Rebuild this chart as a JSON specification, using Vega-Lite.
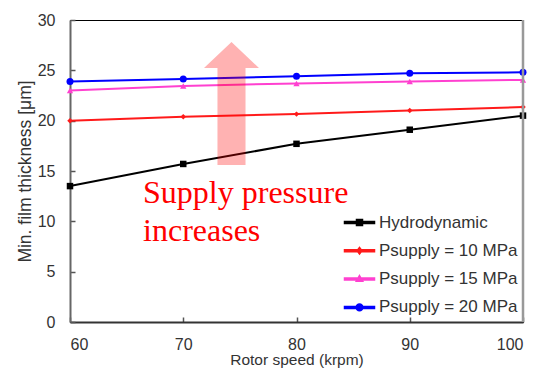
{
  "$schema": "https://vega.github.io/schema/vega-lite/v6.json",
  "width": 453,
  "height": 302,
  "autosize": "none",
  "padding": {"left": 70, "top": 20, "right": 12, "bottom": 48},
  "background": "white",
  "config": {
    "font": "Liberation Sans",
    "view": {"stroke": "#000", "strokeWidth": 1},
    "axis": {
      "grid": false,
      "labelFont": "Liberation Sans",
      "labelFontSize": 16,
      "labelColor": "#333",
      "titleFont": "Liberation Sans",
      "titleFontWeight": "normal",
      "titleColor": "#333",
      "domainColor": "#333",
      "domainWidth": 2,
      "tickColor": "#555",
      "tickSize": -5,
      "tickWidth": 1.5
    },
    "legend": {
      "labelFont": "Liberation Sans",
      "labelFontSize": 17,
      "labelColor": "#333"
    }
  },
  "data": {
    "values": [
      {"speed": 60, "thickness": 13.5, "series": "Hydrodynamic"},
      {"speed": 70, "thickness": 15.7, "series": "Hydrodynamic"},
      {"speed": 80, "thickness": 17.7, "series": "Hydrodynamic"},
      {"speed": 90, "thickness": 19.1, "series": "Hydrodynamic"},
      {"speed": 100, "thickness": 20.5, "series": "Hydrodynamic"},
      {"speed": 60, "thickness": 20.0, "series": "Psupply = 10 MPa"},
      {"speed": 70, "thickness": 20.4, "series": "Psupply = 10 MPa"},
      {"speed": 80, "thickness": 20.65, "series": "Psupply = 10 MPa"},
      {"speed": 90, "thickness": 21.0, "series": "Psupply = 10 MPa"},
      {"speed": 100, "thickness": 21.35, "series": "Psupply = 10 MPa"},
      {"speed": 60, "thickness": 23.0, "series": "Psupply = 15 MPa"},
      {"speed": 70, "thickness": 23.45, "series": "Psupply = 15 MPa"},
      {"speed": 80, "thickness": 23.7, "series": "Psupply = 15 MPa"},
      {"speed": 90, "thickness": 23.9, "series": "Psupply = 15 MPa"},
      {"speed": 100, "thickness": 24.05, "series": "Psupply = 15 MPa"},
      {"speed": 60, "thickness": 23.9, "series": "Psupply = 20 MPa"},
      {"speed": 70, "thickness": 24.15, "series": "Psupply = 20 MPa"},
      {"speed": 80, "thickness": 24.4, "series": "Psupply = 20 MPa"},
      {"speed": 90, "thickness": 24.7, "series": "Psupply = 20 MPa"},
      {"speed": 100, "thickness": 24.8, "series": "Psupply = 20 MPa"}
    ]
  },
  "layer": [
    {
      "mark": {"type": "line", "strokeWidth": 2},
      "encoding": {
        "x": {
          "field": "speed", "type": "quantitative",
          "scale": {"domain": [60, 100], "nice": false, "zero": false},
          "axis": {"values": [60, 70, 80, 90, 100], "title": "Rotor speed (krpm)", "titleFontSize": 15.5, "labelPadding": 19, "titlePadding": 0}
        },
        "y": {
          "field": "thickness", "type": "quantitative",
          "scale": {"domain": [0, 30], "nice": false},
          "axis": {"values": [0, 5, 10, 15, 20, 25, 30], "title": "Min. film thickness [μm]", "titleFontSize": 17.5, "labelPadding": 20, "titlePadding": 3, "domainColor": "#666"}
        },
        "color": {
          "field": "series", "type": "nominal",
          "scale": {
            "domain": ["Hydrodynamic", "Psupply = 10 MPa", "Psupply = 15 MPa", "Psupply = 20 MPa"],
            "range": ["#000000", "#ff1a1a", "#ff40d0", "#0000ff"]
          },
          "legend": {
            "title": null,
            "orient": "none",
            "legendX": 276,
            "legendY": 189,
            "symbolSize": 625,
            "symbolOpacity": 1,
            "rowPadding": 6.3,
            "labelOffset": 6
          }
        }
      }
    },
    {
      "mark": {"type": "point", "filled": true, "opacity": 1, "size": 0.01},
      "encoding": {
        "x": {"field": "speed", "type": "quantitative"},
        "y": {"field": "thickness", "type": "quantitative"},
        "color": {"field": "series", "type": "nominal"},
        "shape": {
          "field": "series", "type": "nominal",
          "scale": {
            "domain": ["Hydrodynamic", "Psupply = 10 MPa", "Psupply = 15 MPa", "Psupply = 20 MPa"],
            "range": [
              "M-1.2,-0.08H1.2V0.08H-1.2Z M-0.24,-0.24H0.24V0.24H-0.24Z",
              "M-1.2,-0.08H1.2V0.08H-1.2Z M0,-0.26L0.2,0L0,0.26L-0.2,0Z",
              "M-1.2,-0.08H1.2V0.08H-1.2Z M0,-0.28L0.26,0.18L-0.26,0.18Z",
              "M-1.2,-0.08H1.2V0.08H-1.2Z M0.27,0A0.27,0.27,0,1,1,-0.27,0A0.27,0.27,0,1,1,0.27,0Z"
            ]
          }
        }
      }
    },
    {
      "transform": [{"filter": "datum.series === 'Hydrodynamic'"}],
      "mark": {"type": "point", "shape": "square", "filled": true, "opacity": 1, "size": 42, "color": "#000000"},
      "encoding": {
        "x": {"field": "speed", "type": "quantitative"},
        "y": {"field": "thickness", "type": "quantitative"}
      }
    },
    {
      "transform": [{"filter": "datum.series === 'Psupply = 10 MPa'"}],
      "mark": {"type": "point", "shape": "diamond", "filled": true, "opacity": 1, "size": 30, "color": "#ff1a1a"},
      "encoding": {
        "x": {"field": "speed", "type": "quantitative"},
        "y": {"field": "thickness", "type": "quantitative"}
      }
    },
    {
      "transform": [{"filter": "datum.series === 'Psupply = 15 MPa'"}],
      "mark": {"type": "point", "shape": "triangle-up", "filled": true, "opacity": 1, "size": 40, "color": "#ff40d0"},
      "encoding": {
        "x": {"field": "speed", "type": "quantitative"},
        "y": {"field": "thickness", "type": "quantitative"}
      }
    },
    {
      "transform": [{"filter": "datum.series === 'Psupply = 20 MPa'"}],
      "mark": {"type": "point", "shape": "circle", "filled": true, "opacity": 1, "size": 49, "color": "#0000ff"},
      "encoding": {
        "x": {"field": "speed", "type": "quantitative"},
        "y": {"field": "thickness", "type": "quantitative"}
      }
    },
    {
      "data": {"values": [{}]},
      "mark": {"type": "rule", "color": "#999", "strokeWidth": 2.5},
      "encoding": {
        "x": {"datum": 100, "type": "quantitative"},
        "y": {"datum": 0, "type": "quantitative"},
        "y2": {"datum": 30}
      }
    },
    {
      "data": {"values": [{}]},
      "mark": {
        "type": "point",
        "shape": "M0,-1L0.447,-0.577L0.228,-0.577L0.228,1L-0.228,1L-0.228,-0.577L-0.447,-0.577Z",
        "filled": true,
        "fill": "#ff0000",
        "opacity": 0.3,
        "strokeWidth": 0,
        "size": 15129
      },
      "encoding": {
        "x": {"datum": 74.26, "type": "quantitative"},
        "y": {"datum": 21.7, "type": "quantitative"}
      }
    },
    {
      "data": {"values": [{}]},
      "mark": {
        "type": "text",
        "text": ["Supply pressure", "increases"],
        "font": "Liberation Serif",
        "fontSize": 32,
        "lineHeight": 38,
        "color": "#ff0000",
        "align": "left",
        "baseline": "alphabetic"
      },
      "encoding": {
        "x": {"datum": 66.45, "type": "quantitative"},
        "y": {"datum": 11.82, "type": "quantitative"}
      }
    }
  ]
}
